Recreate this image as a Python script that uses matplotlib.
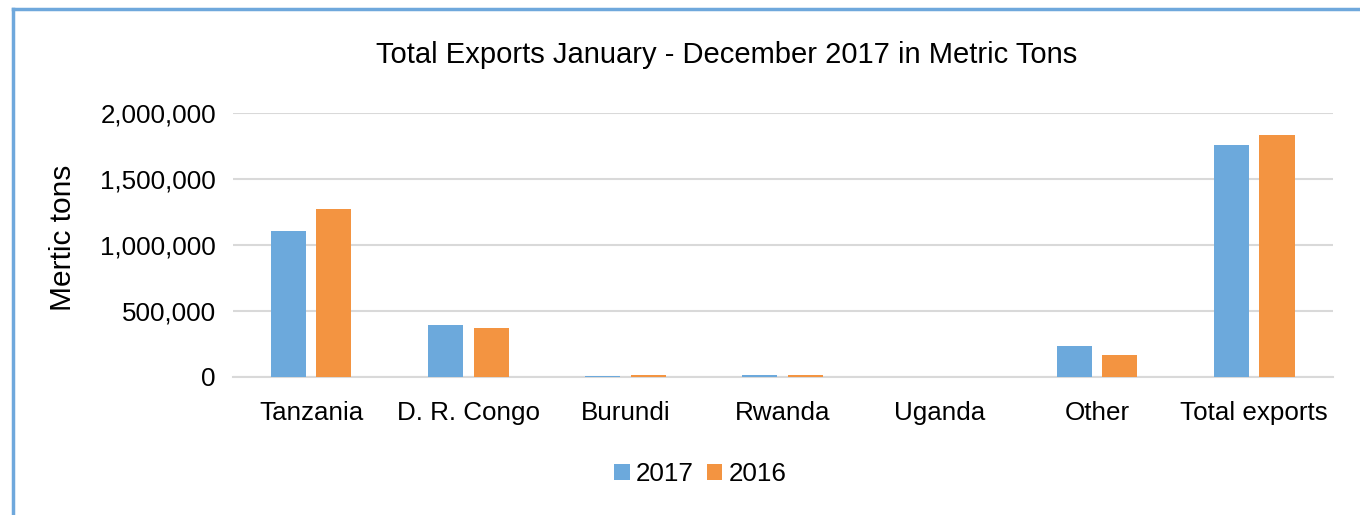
import numpy as np
import matplotlib.pyplot as plt
from matplotlib.lines import Line2D

plt.rcParams['font.family'] = ['Liberation Sans', 'DejaVu Sans']

categories = ["Tanzania", "D. R. Congo", "Burundi", "Rwanda", "Uganda", "Other", "Total exports"]
exports_2017 = [1105000, 394000, 8000, 13000, 1000, 235000, 1758000]
exports_2016 = [1272000, 368000, 12000, 16000, 1000, 167000, 1833000]

fig = plt.figure(figsize=(13.6, 5.15), dpi=100)
ax = fig.add_axes([0.171, 0.268, 0.809, 0.513])

x = np.arange(len(categories))
w = 0.223
ax.bar(x - 0.145, exports_2017, w, color="#6CA9DC", label="2017", zorder=3)
ax.bar(x + 0.145, exports_2016, w, color="#F39441", label="2016", zorder=3)

ax.set_xlim(-0.5, len(categories) - 0.5)
ax.set_ylim(0, 2000000)
ax.set_yticks(np.arange(0, 2000001, 500000))
ax.yaxis.set_major_formatter(plt.FuncFormatter(lambda v, p: f"{int(v):,}"))
ax.set_xticks(x)
ax.set_xticklabels(categories)
ax.tick_params(axis="both", length=0, labelsize=18.7, colors="#000000")
ax.tick_params(axis="x", pad=17)
ax.tick_params(axis="y", pad=12)
ax.grid(axis="y", color="#D9D9D9", linewidth=1.5, zorder=0)
for s in ["top", "right", "left"]:
    ax.spines[s].set_visible(False)
ax.spines["bottom"].set_color("#D9D9D9")
ax.spines["bottom"].set_linewidth(1.5)

ax.set_ylabel("Mertic tons", fontsize=21.5, va="center")
ax.yaxis.set_label_coords(-0.154, 0.527)
fig.text(0.534, 0.893, "Total Exports January - December 2017 in Metric Tons",
         ha="center", va="center", fontsize=21)

fig.legend(loc="center", bbox_to_anchor=(0.515, 0.079), ncol=2, frameon=False,
           fontsize=18.7, handlelength=0.6, handleheight=0.6, handletextpad=0.25,
           columnspacing=0.5)

# frame of the surrounding document box
fig.add_artist(Line2D([13 / 1360, 13 / 1360], [0, 1 - 9 / 515], color="#6FA8DC", lw=2.5))
fig.add_artist(Line2D([13 / 1360, 1], [1 - 9 / 515, 1 - 9 / 515], color="#6FA8DC", lw=2.5))

fig.savefig("out.png", dpi=100)
